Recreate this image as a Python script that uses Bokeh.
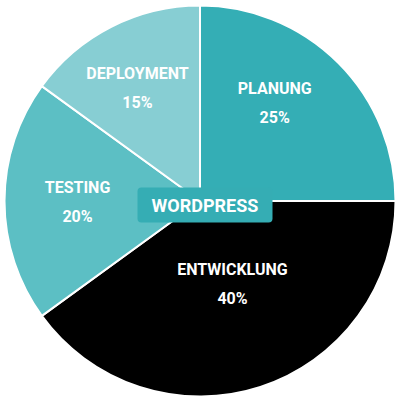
import math
from bokeh.plotting import figure
from bokeh.models import Range1d, ColumnDataSource
from bokeh.core.properties import value
from bokeh.embed import file_html
from bokeh.resources import INLINE

categories = ["PLANUNG", "ENTWICKLUNG", "TESTING", "DEPLOYMENT"]
percents = [25, 40, 20, 15]
colors = ["#34AEB5", "#000000", "#5CBFC4", "#87CED3"]
center_label = "WORDPRESS"

# layout: label anchor (angle deg, radius px)
label_angle = [52.6, -68.6, 180.5, 119.0]
label_radius = [123, 89, 122.5, 129]

R = 195.5
starts, ends = [], []
a = 90.0
for pc in percents:
    starts.append(math.radians(a))
    a -= pc * 3.6
    ends.append(math.radians(a))

src = ColumnDataSource(dict(start=starts, end=ends, color=colors))

p = figure(width=400, height=400, output_backend="svg", toolbar_location=None,
           x_range=Range1d(-199.5, 200.5), y_range=Range1d(-199.5, 200.5),
           min_border=0, outline_line_color=None)
p.axis.visible = False
p.grid.visible = False

p.wedge(x=0, y=0, radius=R, start_angle="start", end_angle="end", direction="clock",
        fill_color="color", line_color="white", line_width=2, source=src)

lx = [r * math.cos(math.radians(t)) for r, t in zip(label_radius, label_angle)]
ly = [r * math.sin(math.radians(t)) for r, t in zip(label_radius, label_angle)]
lsrc = ColumnDataSource(dict(x=lx, y=ly, name=categories, pct=[f"{v}%" for v in percents]))
font = value("Roboto")
p.text(x="x", y="y", text="name", source=lsrc, text_font=font, text_font_style="bold",
       text_font_size="16px", text_color="white", text_align="center",
       text_baseline="middle", y_offset=-14.5)
p.text(x="x", y="y", text="pct", source=lsrc, text_font=font, text_font_style="bold",
       text_font_size="16px", text_color="white", text_align="center",
       text_baseline="middle", y_offset=14.5)

# center badge
bx0, bx1, by0, by1 = -62.5, 72.5, -21.5, 13.5
try:
    p.quad(left=bx0, right=bx1, bottom=by0, top=by1, fill_color="#35ADB4",
           line_color=None, border_radius=4)
except Exception:
    p.quad(left=bx0, right=bx1, bottom=by0, top=by1, fill_color="#35ADB4",
           line_color=None)
p.text(x=[(bx0 + bx1) / 2], y=[(by0 + by1) / 2], text=[center_label], text_font=font,
       text_font_style="bold", text_font_size="18px", text_color="white",
       text_align="center", text_baseline="middle")

open("out.html", "w").write(file_html(p, INLINE))
